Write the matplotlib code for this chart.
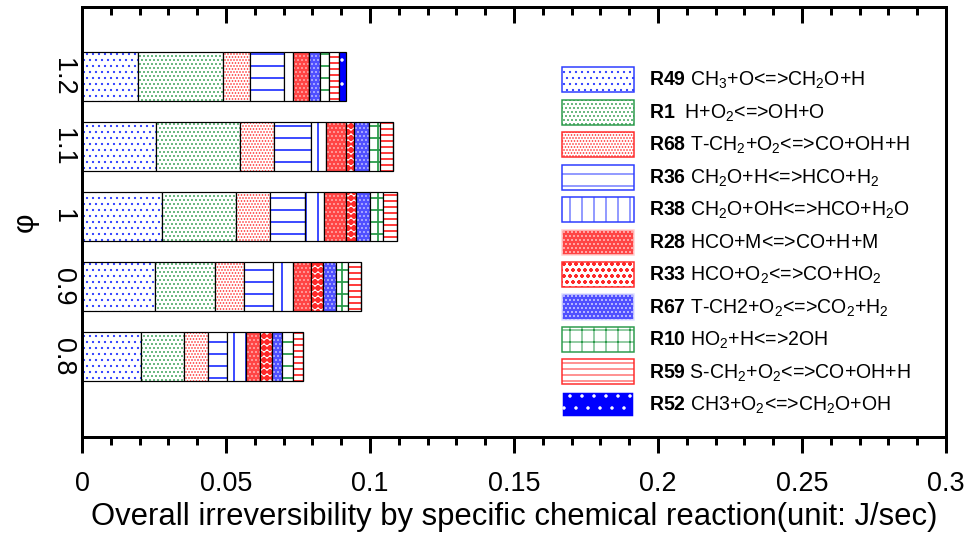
import numpy as np
import matplotlib as mpl
import matplotlib.pyplot as plt
from matplotlib.patches import Patch
from matplotlib.ticker import MultipleLocator, FuncFormatter

# data (phi = 0.8 ... 1.2)
phi_labels = ['0.8', '0.9', '1', '1.1', '1.2']
reaction_ids = ['R49', 'R1', 'R68', 'R36', 'R38', 'R28', 'R33', 'R67', 'R10', 'R59', 'R52']
reaction_eqs = [
    r'CH$_3$+O<=>CH$_2$O+H',
    r' H+O$_2$<=>OH+O',
    r'T-CH$_2$+O$_2$<=>CO+OH+H',
    r'CH$_2$O+H<=>HCO+H$_2$',
    r'CH$_2$O+OH<=>HCO+H$_2$O',
    r'HCO+M<=>CO+H+M',
    r'HCO+O$_2$<=>CO+HO$_2$',
    r'T-CH2+O$_2$<=>CO$_2$+H$_2$',
    r'HO$_2$+H<=>2OH',
    r'S-CH$_2$+O$_2$<=>CO+OH+H',
    r'CH3+O$_2$<=>CH$_2$O+OH',
]
r49 = [0.0204, 0.0254, 0.0277, 0.0258, 0.0196]
r1 = [0.0151, 0.0208, 0.0258, 0.0289, 0.0292]
r68 = [0.0082, 0.0100, 0.0119, 0.0119, 0.0096]
r36 = [0.0067, 0.0102, 0.0122, 0.0130, 0.0116]
r38 = [0.0065, 0.0067, 0.0064, 0.0050, 0.0031]
r28 = [0.0050, 0.0065, 0.0076, 0.0072, 0.0056]
r33 = [0.0039, 0.0040, 0.0035, 0.0026, 0.0]
r67 = [0.0038, 0.0047, 0.0050, 0.0052, 0.0038]
r10 = [0.0035, 0.0042, 0.0045, 0.0038, 0.0031]
r59 = [0.0035, 0.0043, 0.0048, 0.0047, 0.0035]
r52 = [0.0, 0.0, 0.0, 0.0, 0.0026]
values = [r49, r1, r68, r36, r38, r28, r33, r67, r10, r59, r52]

# (face, hatch colour, hatch, hatch linewidth)
blue = '#2b3bff'
green = '#2a9a4a'
red = '#ff2a2a'
styles = [
    ('white', blue, '..', 1.0),
    ('white', green, '...', 1.0),
    ('white', red, '....', 1.0),
    ('white', blue, '-', 1.8),
    ('white', blue, '|', 1.8),
    ('#ff4545', '#ffd0d0', '...', 0.8),
    ('white', red, 'oo', 3.0),
    ('#5050ff', '#e0e0ff', '...', 0.8),
    ('white', green, '+', 1.8),
    ('white', red, '--', 1.8),
    ('#0000ff', 'white', '.', 1.0),
]

plt.rcParams['font.family'] = ['Liberation Sans', 'DejaVu Sans']
plt.rcParams['mathtext.fontset'] = 'custom'
plt.rcParams['mathtext.rm'] = 'Liberation Sans'
plt.rcParams['mathtext.bf'] = 'Liberation Sans:bold'
plt.rcParams['mathtext.it'] = 'Liberation Sans:italic'

DPI = 72
fig = plt.figure(figsize=(971 / DPI, 537 / DPI), dpi=DPI)
ax = fig.add_axes([82 / 971, 1 - 437 / 537, 864 / 971, 430 / 537])

ypos = np.arange(len(phi_labels))
left = np.zeros(len(phi_labels))
for vals, (fc, hc, hatch, hlw) in zip(values, styles):
    with plt.rc_context({'hatch.linewidth': hlw}):
        ax.barh(ypos, vals, left=left, height=0.7, color=fc, edgecolor=hc,
                hatch=hatch, linewidth=0)
    ax.barh(ypos, vals, left=left, height=0.7, facecolor='none',
            edgecolor='black', linewidth=1.2)
    left = left + np.array(vals)

ax.set_xlim(0, 0.3)
ax.set_ylim(-1.15, 5.0)
ax.set_yticks(ypos)
ax.set_yticklabels(phi_labels, rotation=270, va='center', fontsize=27)
ax.tick_params(axis='y', length=0, pad=6)

ax.xaxis.set_major_locator(MultipleLocator(0.05))
ax.xaxis.set_minor_locator(MultipleLocator(0.01))
ax.xaxis.set_major_formatter(FuncFormatter(lambda v, p: '%g' % round(v, 3)))
ax.tick_params(axis='x', which='both', direction='out', bottom=True, top=False,
               width=3, labelsize=27, pad=18)
ax.tick_params(axis='x', which='major', length=16)
ax.tick_params(axis='x', which='minor', length=8)

# top axis with inward ticks, no labels
top = ax.secondary_xaxis('top')
top.xaxis.set_major_locator(MultipleLocator(0.05))
top.xaxis.set_minor_locator(MultipleLocator(0.01))
top.tick_params(axis='x', which='both', direction='in', width=3, labeltop=False)
top.tick_params(axis='x', which='major', length=16)
top.tick_params(axis='x', which='minor', length=8)
top.spines['top'].set_linewidth(3)

for s in ax.spines.values():
    s.set_linewidth(3)

ax.set_xlabel('Overall irreversibility by specific chemical reaction(unit: J/sec)',
              fontsize=31, labelpad=5)
ax.set_ylabel('\u03c6', fontsize=30, labelpad=11)

handles = []
labels = []
for rid, eq, (fc, hc, hatch, hlw) in zip(reaction_ids, reaction_eqs, styles):
    with plt.rc_context({'hatch.linewidth': hlw}):
        handles.append(Patch(facecolor=fc, edgecolor=hc, hatch=hatch, linewidth=1.5))
    labels.append(r'$\mathbf{%s}$ %s' % (rid, eq))

ax.legend(handles, labels, loc='upper left', bbox_to_anchor=(0.5556, 0.86),
          frameon=False, fontsize=19.5, handlelength=3.69, handleheight=1.6,
          handletextpad=0.75, labelspacing=0.38, borderpad=0, borderaxespad=0)

fig.savefig('out.png', dpi=DPI)
